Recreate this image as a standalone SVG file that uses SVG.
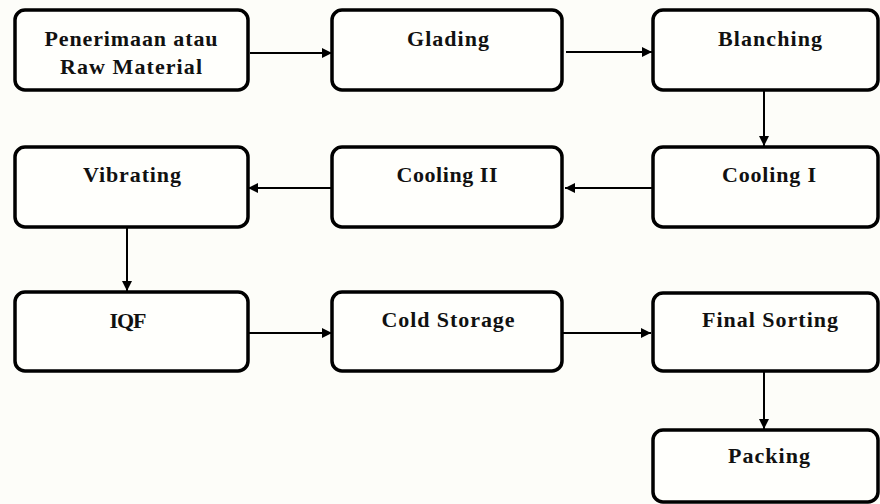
<svg xmlns="http://www.w3.org/2000/svg" width="880" height="504" viewBox="0 0 880 504">
<defs>
<style>
.box{fill:#fffffc;stroke:#000;stroke-width:3.5}
.lbl{font-family:"Liberation Serif","Times New Roman",serif;font-weight:bold;font-size:22px;fill:#111;text-anchor:middle}
.con{stroke:#000;stroke-width:2;fill:none;marker-end:url(#ah)}
</style>
<marker id="ah" viewBox="0 0 10 10" refX="10" refY="5" markerWidth="6" markerHeight="5" orient="auto" markerUnits="strokeWidth">
<path d="M0,0 L10,5 L0,10 Z" fill="#000"/>
</marker>
</defs>
<rect width="880" height="504" fill="#fdfdf9"/>
<g id="connectors">
<line class="con" x1="250" y1="53" x2="332" y2="53"/>
<line class="con" x1="566" y1="52" x2="652" y2="52"/>
<line class="con" x1="764" y1="91" x2="764" y2="146"/>
<line class="con" x1="653" y1="188" x2="565" y2="188"/>
<line class="con" x1="332" y1="188" x2="248" y2="188"/>
<line class="con" x1="127" y1="228" x2="127" y2="291"/>
<line class="con" x1="249" y1="333" x2="332" y2="333"/>
<line class="con" x1="563" y1="333" x2="651" y2="333"/>
<line class="con" x1="764" y1="372" x2="764" y2="429"/>
</g>
<g id="n1"><rect class="box" x="15" y="10" width="233" height="80" rx="10"/>
<text class="lbl" x="131" y="46" textLength="173" lengthAdjust="spacing">Penerimaan atau</text>
<text class="lbl" x="131" y="74" textLength="142" lengthAdjust="spacing">Raw Material</text></g>
<g id="n2"><rect class="box" x="332" y="10" width="230" height="80" rx="10"/>
<text class="lbl" x="448" y="46" textLength="82" lengthAdjust="spacing">Glading</text></g>
<g id="n3"><rect class="box" x="653" y="10" width="225" height="80" rx="10"/>
<text class="lbl" x="770" y="46" textLength="104" lengthAdjust="spacing">Blanching</text></g>
<g id="n4"><rect class="box" x="653" y="147" width="225" height="80" rx="10"/>
<text class="lbl" x="769" y="182" textLength="94" lengthAdjust="spacing">Cooling I</text></g>
<g id="n5"><rect class="box" x="332" y="147" width="230" height="80" rx="10"/>
<text class="lbl" x="447" y="182" textLength="101" lengthAdjust="spacing">Cooling II</text></g>
<g id="n6"><rect class="box" x="15" y="147" width="233" height="80" rx="10"/>
<text class="lbl" x="132" y="182" textLength="98" lengthAdjust="spacing">Vibrating</text></g>
<g id="n7"><rect class="box" x="15" y="292" width="233" height="79" rx="10"/>
<text class="lbl" x="128" y="328" textLength="37" lengthAdjust="spacing">IQF</text></g>
<g id="n8"><rect class="box" x="332" y="292" width="230" height="79" rx="10"/>
<text class="lbl" x="448" y="327" textLength="133" lengthAdjust="spacing">Cold Storage</text></g>
<g id="n9"><rect class="box" x="653" y="293" width="225" height="78" rx="10"/>
<text class="lbl" x="770" y="327" textLength="136" lengthAdjust="spacing">Final Sorting</text></g>
<g id="n10"><rect class="box" x="653" y="430" width="225" height="72" rx="10"/>
<text class="lbl" x="769" y="463" textLength="82" lengthAdjust="spacing">Packing</text></g>
</svg>
